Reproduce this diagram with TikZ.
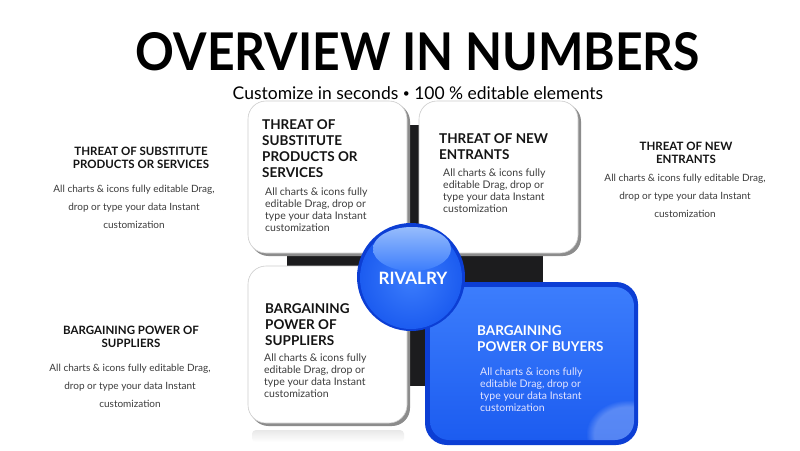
\documentclass[tikz,border=0pt]{standalone}
\usepackage{fontspec}
\setmainfont{Lato}
\usetikzlibrary{fadings}
\definecolor{darksq}{RGB}{28,28,30}
\definecolor{bluedk}{RGB}{12,62,212}
\definecolor{bluemd}{RGB}{28,92,240}
\definecolor{bluelt}{RGB}{60,125,252}
\definecolor{bluehl}{RGB}{150,188,252}
\definecolor{bodygray}{RGB}{60,60,60}
\begin{document}
\begin{tikzpicture}[x=1pt,y=-1pt,
  card/.style={draw=black!20, line width=0.6pt, fill=white, rounded corners=18pt},
  cardshadow/.style={fill=black!45, rounded corners=18pt},
  ttl/.style={font=\fontsize{13.5}{16}\selectfont\bfseries, text=black!92, align=left, anchor=north west, inner sep=0pt},
  body/.style={font=\fontsize{10.5}{12}\selectfont, text=bodygray, align=left, anchor=north west, inner sep=0pt},
  sidettl/.style={font=\fontsize{11.5}{13}\selectfont\bfseries, text=black!92, align=center, inner sep=0pt},
  sidebody/.style={font=\fontsize{10}{18}\selectfont, text=bodygray, align=center, inner sep=0pt},
]
\useasboundingbox (0,0) rectangle (800,450);
\fill[white] (0,0) rectangle (800,450);

% title
\node[inner sep=0pt] (title) at (418,52) {\scalebox{0.925}[1]{\fontsize{52}{52}\selectfont\bfseries OVERVIEW IN NUMBERS}};
\node[inner sep=0pt] (subtitle) at (418,93) {\fontsize{17.5}{18}\selectfont Customize in seconds {\fontsize{12}{12}\selectfont\raisebox{1.6pt}{\textbullet}}\ 100 \% editable elements};

% dark square
\fill[darksq] (287,125) rectangle (543,386);

% top-left card
\fill[cardshadow] (250.5,103.5) rectangle (410,256);
\draw[card] (248,101) rectangle (407,253);
% top-right card
\fill[cardshadow] (421.5,103.5) rectangle (581,256);
\draw[card] (419,101) rectangle (578,253);
% bottom-left card reflection
\shade[top color=black!9, bottom color=white, rounded corners=4pt] (252,430) rectangle (404,442);
% bottom-left card
\fill[cardshadow] (250.5,268.5) rectangle (410,426);
\draw[card] (248,266) rectangle (407,423);

% blue card
\fill[bluedk, rounded corners=22pt] (425,282) rectangle (638,445);
\begin{scope}
  \clip[rounded corners=19pt] (430,287) rectangle (634,440);
  \shade[top color=bluelt, bottom color=bluemd] (430,287) rectangle (634,440);
  \fill[white, path fading=circle with fuzzy edge 20 percent, fill opacity=0.25] (628,434) ellipse (42 and 34);
\end{scope}

% circle
\fill[bluedk] (411,277) circle (54);
\shade[inner color=bluelt, outer color=bluemd] (411,278) circle (51);
\shade[top color=bluehl, bottom color=bluelt] (412,249) ellipse (39 and 22);

% card texts
\node[ttl] (tlT) at (262,119) {THREAT OF\\SUBSTITUTE\\PRODUCTS OR\\SERVICES};
\node[body] (tlB) at (265,188) {All charts \& icons fully\\editable Drag, drop or\\type your data Instant\\customization};
\node[ttl] (trT) at (439,133) {THREAT OF NEW\\ENTRANTS};
\node[body] (trB) at (443,169) {All charts \& icons fully\\editable Drag, drop or\\type your data Instant\\customization};
\node[ttl] (blT) at (265,303) {BARGAINING\\POWER OF\\SUPPLIERS};
\node[body] (blB) at (264,354) {All charts \& icons fully\\editable Drag, drop or\\type your data Instant\\customization};
\node[ttl, text=white] (brT) at (477,325) {BARGAINING\\POWER OF BUYERS};
\node[body, text=white!90!blue] (brB) at (480,368) {All charts \& icons fully\\editable Drag, drop or\\type your data Instant\\customization};

\node[inner sep=0pt, text=white, font=\fontsize{17}{17}\selectfont\bfseries] (riv) at (413,278) {RIVALRY};

% side texts
\node[sidettl] (l1T) at (141,157.5) {THREAT OF SUBSTITUTE\\PRODUCTS OR SERVICES};
\node[sidebody] (l1B) at (134,207) {All charts \& icons fully editable Drag,\\drop or type your data Instant\\customization};
\node[sidettl] (rT) at (686,152.5) {THREAT OF NEW\\ENTRANTS};
\node[sidebody] (rB) at (685,196) {All charts \& icons fully editable Drag,\\drop or type your data Instant\\customization};
\node[sidettl] (l2T) at (131,337) {BARGAINING POWER OF\\SUPPLIERS};
\node[sidebody] (l2B) at (130,386) {All charts \& icons fully editable Drag,\\drop or type your data Instant\\customization};
\end{tikzpicture}
\end{document}
